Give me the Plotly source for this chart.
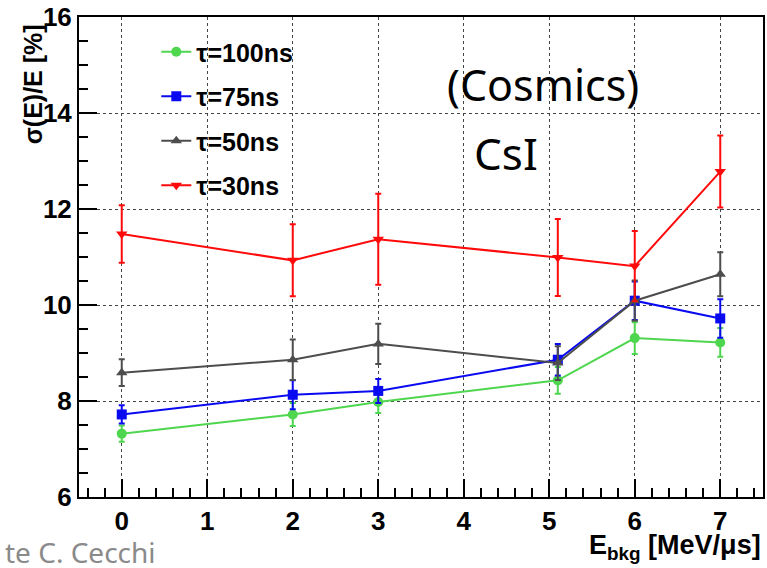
import plotly.graph_objects as go

# ---- data ----
x_vals = [0, 2, 3, 5.1, 6, 7]
series_names = ["τ=100ns", "τ=75ns", "τ=50ns", "τ=30ns"]
y_100 = [7.32, 7.72, 7.98, 8.43, 9.31, 9.22]
e_100 = [0.17, 0.24, 0.23, 0.28, 0.33, 0.30]
y_75 = [7.72, 8.13, 8.21, 8.86, 10.09, 9.72]
e_75 = [0.19, 0.30, 0.25, 0.33, 0.40, 0.40]
y_50 = [8.59, 8.86, 9.19, 8.79, 10.09, 10.64]
e_50 = [0.28, 0.42, 0.42, 0.35, 0.42, 0.46]
y_30 = [11.48, 10.93, 11.37, 10.99, 10.81, 12.78]
e_30 = [0.60, 0.75, 0.95, 0.80, 0.73, 0.75]

x_ticks = [0, 1, 2, 3, 4, 5, 6, 7]
y_ticks = [6, 8, 10, 12, 14, 16]

colors = ["#4fd64f", "#0a0af0", "#4d4d4d", "#ff0a0a"]
symbols = ["circle", "square", "triangle-up", "triangle-down"]
ys = [y_100, y_75, y_50, y_30]
es = [e_100, e_75, e_50, e_30]

fig = go.Figure()
for i, (name, y, e) in enumerate(zip(series_names, ys, es)):
    fig.add_trace(go.Scatter(
        x=x_vals, y=y, name=name, mode="lines+markers",
        legendgroup=f"g{i}",
        line=dict(color=colors[i], width=2),
        marker=dict(color=colors[i], symbol=symbols[i], size=10),
        error_y=dict(type="data", array=e, color=colors[i], thickness=2, width=3),
    ))

tickfont = dict(family="Liberation Sans", size=26, color="black", weight=700)
fig.update_layout(
    width=767, height=568,
    margin=dict(l=79, r=2, t=15, b=71),
    plot_bgcolor="white", paper_bgcolor="white",
    showlegend=True,
    legend=dict(x=0.113, y=0.975, xanchor="left", yanchor="top",
                bgcolor="rgba(0,0,0,0)",
                font=dict(family="Liberation Sans", size=25, color="black", weight=700),
                tracegroupgap=9, itemwidth=30),
    xaxis=dict(range=[-0.5, 7.5],
               tickmode="array", tickvals=x_ticks,
               ticktext=[f"<b>{v}</b>" for v in x_ticks],
               showline=True, linecolor="black", linewidth=2, mirror=True,
               ticks="inside", ticklen=18, tickwidth=1.5, tickcolor="black",
               showgrid=True, gridcolor="#444", griddash="dot", gridwidth=1,
               zeroline=False,
               tickfont=tickfont,
               minor=dict(dtick=0.2, tick0=0, ticks="inside", ticklen=9, tickcolor="black", tickwidth=1.5, showgrid=False)),
    yaxis=dict(range=[6, 16],
               tickmode="array", tickvals=y_ticks,
               ticktext=[f"<b>{v}</b>" for v in y_ticks],
               showline=True, linecolor="black", linewidth=2, mirror=True,
               ticks="inside", ticklen=18, tickwidth=1.5, tickcolor="black",
               showgrid=True, gridcolor="#444", griddash="dot", gridwidth=1,
               zeroline=False,
               tickfont=tickfont,
               minor=dict(dtick=0.5, tick0=6, ticks="inside", ticklen=9, tickcolor="black", tickwidth=1.5, showgrid=False)),
)

fig.add_annotation(text="<b>σ(E)/E [%]</b>", textangle=-90, xref="paper", yref="paper",
                   x=-0.068, y=0.99, xanchor="center", yanchor="top", showarrow=False,
                   font=dict(family="Liberation Sans", size=25, color="black", weight=700))
fig.add_annotation(text="<b>E<sub>bkg</sub> [MeV/μs]</b>", xref="paper", yref="paper",
                   x=1.0, y=-0.104, xanchor="right", yanchor="middle", showarrow=False,
                   font=dict(family="Liberation Sans", size=27, color="black", weight=700))
fig.add_annotation(text="(Cosmics)", xref="paper", yref="paper",
                   x=0.679, y=0.859, xanchor="center", yanchor="middle", showarrow=False,
                   font=dict(family="Noto Sans", size=43, color="black"))
fig.add_annotation(text="CsI", xref="paper", yref="paper",
                   x=0.624, y=0.716, xanchor="center", yanchor="middle", showarrow=False,
                   font=dict(family="Noto Sans", size=44, color="black"))
fig.add_annotation(text="te C. Cecchi", xref="paper", yref="paper",
                   x=-0.111, y=-0.114, xanchor="left", yanchor="middle", showarrow=False,
                   font=dict(family="Noto Sans", size=28, color="#8a8a8a"))

fig.write_html("out.html")
